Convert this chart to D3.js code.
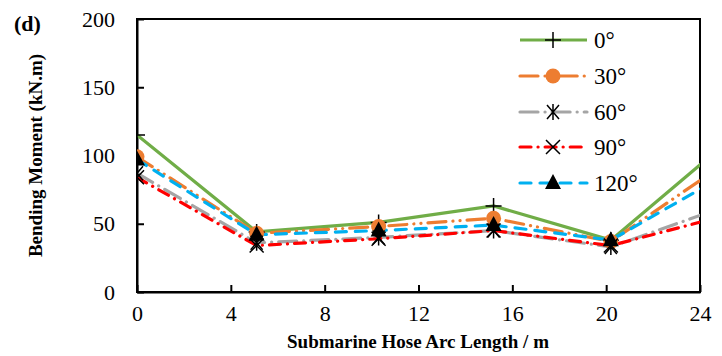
<!DOCTYPE html>
<html>
<head>
<meta charset="utf-8">
<script src="https://cdn.jsdelivr.net/npm/d3@7"></script>
<style>
  body { margin: 0; background: #fff; }
</style>
</head>
<body>
<div id="chart"></div>
<script>
// arc length positions (last one runs past the 24 m axis end and is clipped)
const arcLength = [0, 5.1, 10.3, 15.2, 20.2, 25.3];
const series = ["0°", "30°", "60°", "90°", "120°"];
const m0 = [115, 44, 51, 63, 38, 112];
const m30 = [99, 43, 48, 54, 37, 97];
const m60 = [87, 36, 40, 45, 33, 64];
const m90 = [84, 34, 39, 45, 34, 57];
const m120 = [97, 42, 45, 49, 38, 88];
const xTicks = [0, 4, 8, 12, 16, 20, 24];
const yTicks = [0, 50, 100, 150, 200];

const W = 722, H = 356;
const margin = { t: 19, r: 22, b: 64, l: 137 };
const SERIF = "'Liberation Serif', 'Times New Roman', Times, serif";

const styles = [
  { vals: m0, color: "#70ad47", dash: null, marker: "plus" },
  { vals: m30, color: "#ed7d31", dash: "18 7 0.1 7 0.1 7", marker: "circle" },
  { vals: m60, color: "#a5a5a5", dash: "18 7 0.1 7", marker: "asterisk" },
  { vals: m90, color: "#ff0000", dash: "11 7 0.1 7", marker: "cross" },
  { vals: m120, color: "#00b0f0", dash: "11 9", marker: "triangle" },
];

const svg = d3.select("#chart").append("svg")
  .attr("width", W).attr("height", H)
  .style("font-family", SERIF);

const x = d3.scaleLinear().domain([0, 24]).range([margin.l, W - margin.r]);
const y = d3.scaleLinear().domain([0, 200]).range([H - margin.b, margin.t]);

svg.append("clipPath").attr("id", "plot-clip")
  .append("rect")
  .attr("x", margin.l).attr("y", margin.t)
  .attr("width", W - margin.l - margin.r)
  .attr("height", H - margin.t - margin.b);

// frame
svg.append("rect")
  .attr("x", margin.l).attr("y", margin.t)
  .attr("width", W - margin.l - margin.r)
  .attr("height", H - margin.t - margin.b)
  .attr("fill", "none").attr("stroke", "#000").attr("stroke-width", 2);

// axes
const ax = d3.axisBottom(x).tickValues(xTicks).tickSizeInner(-7).tickSizeOuter(0).tickPadding(13);
const ay = d3.axisLeft(y).tickValues(yTicks).tickSizeInner(-7).tickSizeOuter(0).tickPadding(22);

const styleAxis = g => {
  g.attr("font-family", null);
  g.selectAll("line,path").attr("stroke", "#000").attr("stroke-width", 2);
  g.selectAll("text").attr("fill", "#000")
    .style("font-family", SERIF).style("font-size", "22px");
};

svg.append("g")
  .attr("transform", `translate(0,${H - margin.b})`)
  .call(ax)
  .call(styleAxis);

svg.append("g")
  .attr("transform", `translate(${margin.l},0)`)
  .call(ay)
  .call(styleAxis);

// marker drawing
function drawMarker(g, type, color) {
  const k = "#000";
  if (type === "plus") {
    g.append("path").attr("d", "M-8,0H8M0,-8V8").attr("stroke", k).attr("stroke-width", 1.5);
  } else if (type === "circle") {
    g.append("circle").attr("r", 7.5).attr("fill", color);
  } else if (type === "asterisk") {
    g.append("path").attr("d", "M-6,-7L6,7M-6,7L6,-7M0,-8V8").attr("stroke", k).attr("stroke-width", 1.5);
  } else if (type === "cross") {
    g.append("path").attr("d", "M-7,-7L7,7M-7,7L7,-7").attr("stroke", k).attr("stroke-width", 1.5);
  } else if (type === "triangle") {
    g.append("path").attr("d", "M0,-9L8,6H-8Z").attr("fill", k);
  }
}

const plot = svg.append("g").attr("clip-path", "url(#plot-clip)");
const lineGen = d3.line().x((d, i) => x(arcLength[i])).y(d => y(d));

styles.forEach(s => {
  plot.append("path")
    .attr("d", lineGen(s.vals))
    .attr("fill", "none")
    .attr("stroke", s.color)
    .attr("stroke-width", 3.2)
    .attr("stroke-linecap", s.dash ? "round" : "butt")
    .attr("stroke-dasharray", s.dash);
});
styles.forEach(s => {
  s.vals.forEach((v, i) => {
    if (arcLength[i] > 24) return;
    const g = plot.append("g").attr("transform", `translate(${x(arcLength[i])},${y(v)})`);
    drawMarker(g, s.marker, s.color);
  });
});

// legend
const legend = svg.append("g");
const rowY = [40, 76, 112, 147, 183];
styles.forEach((s, i) => {
  const g = legend.append("g").attr("transform", `translate(0,${rowY[i]})`);
  g.append("line")
    .attr("x1", 520).attr("x2", 587)
    .attr("stroke", s.color).attr("stroke-width", 3.2)
    .attr("stroke-linecap", s.dash ? "round" : "butt")
    .attr("stroke-dasharray", s.dash);
  const mg = g.append("g").attr("transform", "translate(553,0)");
  drawMarker(mg, s.marker, s.color);
  g.append("text").attr("x", 594).attr("y", 8)
    .style("font-family", SERIF).style("font-size", "23px").text(series[i]);
});

// titles
svg.append("text").attr("x", 14).attr("y", 31)
  .style("font-family", SERIF).style("font-size", "22px").attr("font-weight", "bold").text("(d)");

svg.append("text")
  .attr("transform", `translate(42,${(margin.t + H - margin.b) / 2}) rotate(-90)`)
  .attr("text-anchor", "middle")
  .style("font-family", SERIF).style("font-size", "19px").attr("font-weight", "bold")
  .text("Bending Moment (kN.m)");

svg.append("text")
  .attr("x", 418).attr("y", 348)
  .attr("text-anchor", "middle")
  .style("font-family", SERIF).style("font-size", "19px").attr("font-weight", "bold")
  .text("Submarine Hose Arc Length / m");
</script>
</body>
</html>
